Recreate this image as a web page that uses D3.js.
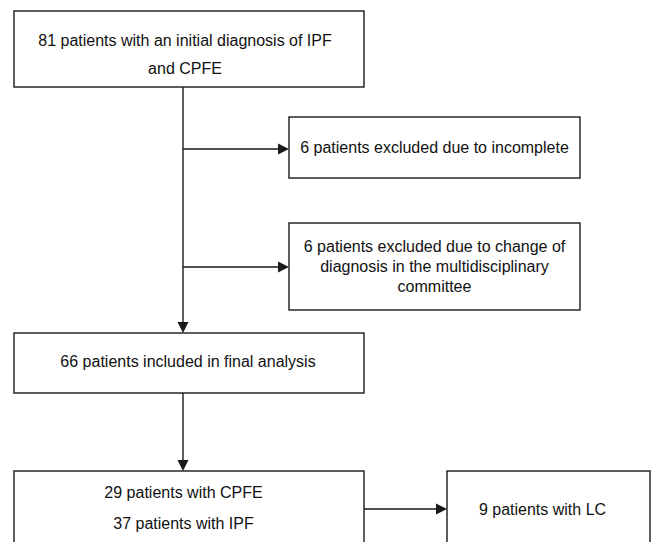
<!DOCTYPE html>
<html>
<head>
<meta charset="utf-8">
<script src="https://cdn.jsdelivr.net/npm/d3@7"></script>
<style>
  html, body { margin: 0; padding: 0; background: #fff; }
  svg { display: block; }
</style>
</head>
<body>
<div id="chart"></div>
<script>
// ---- data (flowchart content) ----
const nodeIds = ["initial", "excl1", "excl2", "final", "groups", "lc"];
const nodeLines = [
  ["81 patients with an initial diagnosis of IPF", "and CPFE"],
  ["6 patients excluded due to incomplete"],
  ["6 patients excluded due to change of", "diagnosis in the multidisciplinary", "committee"],
  ["66 patients included in final analysis"],
  ["29 patients with CPFE", "37 patients with IPF"],
  ["9 patients with LC"]
];
const patientCounts = [81, 6, 6, 66, 66, 9];
const edgeFrom = ["initial", "initial", "initial", "final", "groups"];
const edgeTo   = ["final", "excl1", "excl2", "groups", "lc"];

// ---- layout (positions and sizes, separate from data) ----
const W = 652, H = 542;
const layout = {
  initial: { x: 14,  y: 11,  w: 350, h: 76,  tx: 185,   ty: 54.5,  lh: 28 },
  excl1:   { x: 289, y: 117, w: 291, h: 61,  tx: 434.5, ty: 147.5, lh: 19 },
  excl2:   { x: 289, y: 223, w: 291, h: 87,  tx: 434.5, ty: 266.5, lh: 20 },
  final:   { x: 14,  y: 333, w: 350, h: 60,  tx: 188,   ty: 361.5, lh: 19 },
  groups:  { x: 14,  y: 471, w: 350, h: 110, tx: 183.5, ty: 508,   lh: 31 },
  lc:      { x: 447, y: 471, w: 203, h: 110, tx: 542.5, ty: 509.5, lh: 19 }
};
const trunkX = 183;
const edgeGeom = {
  "initial-final": [[trunkX, 87], [trunkX, 333]],
  "initial-excl1": [[trunkX, 149], [289, 149]],
  "initial-excl2": [[trunkX, 267], [289, 267]],
  "final-groups":  [[trunkX, 393], [trunkX, 471]],
  "groups-lc":     [[364, 509], [447, 509]]
};

const stroke = "#1a1a1a";
const font = "'Liberation Sans', Arial, Helvetica, sans-serif";

const svg = d3.select("#chart").append("svg")
  .attr("width", W).attr("height", H)
  .attr("viewBox", `0 0 ${W} ${H}`);

const nodes = nodeIds.map((id, i) => ({ id, lines: nodeLines[i], count: patientCounts[i], ...layout[id] }));
const edges = edgeFrom.map((f, i) => ({ from: f, to: edgeTo[i], pts: edgeGeom[f + "-" + edgeTo[i]] }));

// edges
const AL = 11, AW = 5.5;
const eg = svg.append("g").attr("class", "edges");
edges.forEach(e => {
  const [p0, p1] = e.pts;
  const dx = p1[0] - p0[0], dy = p1[1] - p0[1];
  const len = Math.hypot(dx, dy);
  const ux = dx / len, uy = dy / len;
  const bx = p1[0] - ux * AL, by = p1[1] - uy * AL;
  eg.append("line")
    .attr("x1", p0[0]).attr("y1", p0[1])
    .attr("x2", bx).attr("y2", by)
    .attr("stroke", stroke).attr("stroke-width", 1.4);
  const px = -uy, py = ux;
  eg.append("path")
    .attr("d", d3.line()([[p1[0], p1[1]], [bx + px * AW, by + py * AW], [bx - px * AW, by - py * AW]]) + "Z")
    .attr("fill", stroke).attr("stroke", "none");
});

// boxes
const ng = svg.append("g").attr("class", "nodes")
  .selectAll("g").data(nodes).join("g");

ng.append("rect")
  .attr("x", d => d.x).attr("y", d => d.y)
  .attr("width", d => d.w).attr("height", d => d.h)
  .attr("fill", "#fff").attr("stroke", stroke).attr("stroke-width", 1.4);

ng.each(function(d) {
  const n = d.lines.length;
  d3.select(this).selectAll("text").data(d.lines).join("text")
    .attr("x", d.tx)
    .attr("y", (t, i) => d.ty + 5.5 + (i - (n - 1) / 2) * d.lh)
    .attr("text-anchor", "middle")
    .attr("font-family", font)
    .attr("font-size", 16)
    .attr("fill", "#111")
    .text(t => t);
});
</script>
</body>
</html>
